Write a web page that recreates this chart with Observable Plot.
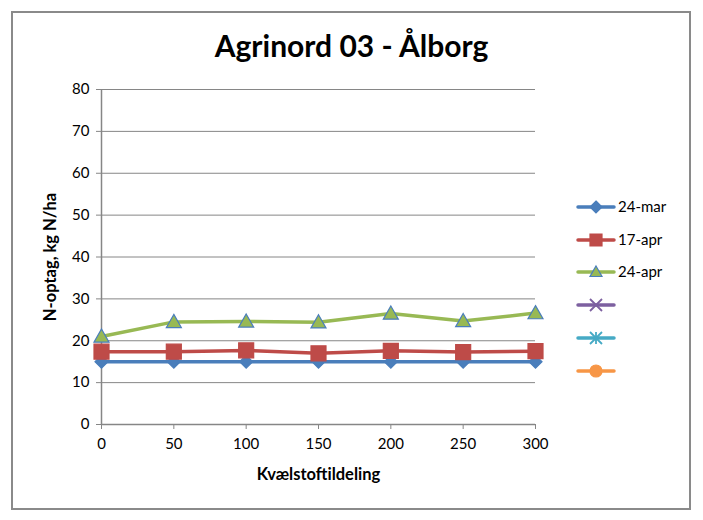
<!DOCTYPE html>
<html>
<head>
<meta charset="utf-8">
<script src="https://cdn.jsdelivr.net/npm/d3@7"></script>
<script src="https://cdn.jsdelivr.net/npm/@observablehq/plot@0.6"></script>
<style>
  html, body { margin: 0; padding: 0; background: #fff; }
  #wrap { position: relative; width: 703px; height: 520px; font-family: Lato, "Open Sans", sans-serif; }
  #frame { position: absolute; left: 11px; top: 11px; width: 676px; height: 495px; border: 2px solid #8a8a8a; }
  #title { position: absolute; left: 0; width: 703px; top: 27px; text-align: center; font-size: 30px; font-weight: bold; color: #000; }
  #chart { position: absolute; left: 0; top: 0; }
  #legend { position: absolute; left: 0; top: 0; }
</style>
</head>
<body>
<div id="wrap">
  <div id="frame"></div>
  <div id="title">Agrinord 03 - Ålborg</div>
  <div id="chart"></div>
  <svg id="legend" width="703" height="520"></svg>
</div>
<script>
// ---- data ----
const xValues = [0, 50, 100, 150, 200, 250, 300];
const seriesNames = ["24-mar", "17-apr", "24-apr", "", "", ""];
const mar24 = [15.0, 15.0, 15.0, 15.0, 15.0, 15.0, 15.0];
const apr17 = [17.4, 17.4, 17.7, 17.0, 17.6, 17.3, 17.5];
const apr24 = [21.0, 24.5, 24.6, 24.4, 26.5, 24.7, 26.6];
const seriesValues = [mar24, apr17, apr24, [], [], []];
const yTicks = [0, 10, 20, 30, 40, 50, 60, 70, 80];
const xTicks = [0, 50, 100, 150, 200, 250, 300];

// ---- styles ----
const lineColors = ["#4A7EBB", "#BE4B48", "#98B954", "#7D60A0", "#46AAC5", "#F79646"];
const markerStroke = ["#4A7EBB", "#BE4B48", "#4A7EBB", "#7D60A0", "#46AAC5", "#F79646"];
const markerKinds = ["diamond", "square", "triangle", "x", "asterisk", "circle"];

function makeSymbol(kind) {
  return {
    draw(ctx, size) {
      const r = Math.sqrt(size / Math.PI);
      if (kind === "diamond") {
        ctx.moveTo(0, -r); ctx.lineTo(r, 0); ctx.lineTo(0, r); ctx.lineTo(-r, 0); ctx.closePath();
      } else if (kind === "square") {
        ctx.moveTo(-r, -r); ctx.lineTo(r, -r); ctx.lineTo(r, r); ctx.lineTo(-r, r); ctx.closePath();
      } else if (kind === "triangle") {
        ctx.moveTo(0, -r); ctx.lineTo(r, r * 0.75); ctx.lineTo(-r, r * 0.75); ctx.closePath();
      } else if (kind === "x") {
        ctx.moveTo(-r, -r); ctx.lineTo(r, r); ctx.moveTo(r, -r); ctx.lineTo(-r, r);
      } else if (kind === "asterisk") {
        ctx.moveTo(-r, -r); ctx.lineTo(r, r); ctx.moveTo(r, -r); ctx.lineTo(-r, r);
        ctx.moveTo(0, -r); ctx.lineTo(0, r);
      } else {
        ctx.moveTo(r, 0); ctx.arc(0, 0, r, 0, 2 * Math.PI);
      }
    }
  };
}

const rows = [];
seriesValues.forEach((vals, i) => {
  vals.forEach((v, j) => rows.push({ series: i, x: xValues[j], y: v }));
});

const W = 703, H = 520;
const marks = [
  Plot.ruleY(yTicks.filter(d => d > 0), { stroke: "#868686", strokeWidth: 1, strokeOpacity: 1 }),
  Plot.ruleX([0], { stroke: "#868686", strokeWidth: 1.5 }),
  Plot.ruleY([0], { stroke: "#868686", strokeWidth: 1.5 }),
  Plot.axisY({ ticks: yTicks, tickSize: 5, tickPadding: 7, stroke: "#868686", fontSize: 15,
    label: "N-optag, kg N/ha", labelAnchor: "center", labelArrow: "none", labelOffset: 57 }),
  Plot.axisX({ ticks: xTicks, tickSize: 5, tickPadding: 9, stroke: "#868686", fontSize: 15,
    label: "Kvælstoftildeling", labelAnchor: "center", labelArrow: "none", labelOffset: 55 })
];
[0, 1, 2].forEach(i => {
  const d = rows.filter(r => r.series === i);
  marks.push(Plot.line(d, { x: "x", y: "y", stroke: lineColors[i], strokeWidth: 3.5 }));
});
[0, 1, 2].forEach(i => {
  const d = rows.filter(r => r.series === i);
  const rr = i === 0 ? 6.5 : 7.5;
  marks.push(Plot.dot(d, { x: "x", y: "y", r: rr, symbol: makeSymbol(markerKinds[i]),
    fill: markerKinds[i] === "triangle" ? lineColors[i] : markerStroke[i],
    stroke: markerStroke[i], strokeWidth: 1.2 }));
});

const chart = Plot.plot({
  width: W, height: H,
  marginLeft: 101, marginRight: 168, marginTop: 89, marginBottom: 96,
  style: { fontFamily: "Lato, 'Open Sans', sans-serif", fontSize: "15px", color: "#000", background: "transparent" },
  x: { domain: [0, 300] },
  y: { domain: [0, 80] },
  marks
});
chart.querySelectorAll('[aria-label="y-axis label"], [aria-label="x-axis label"]').forEach(g => {
  g.setAttribute("font-size", "16.5");
  g.setAttribute("font-weight", "bold");
  g.querySelectorAll("text").forEach(t => {
    t.setAttribute("font-size", "16.5");
    t.style.fontWeight = "bold"; t.style.fontSize = "16.5px";
  });
});
document.getElementById("chart").appendChild(chart);

// ---- legend ----
const leg = d3.select("#legend");
const rowY = [207, 240, 272, 305, 338, 371];
seriesNames.forEach((name, i) => {
  const g = leg.append("g").attr("transform", `translate(0,${rowY[i]})`);
  g.append("line").attr("x1", 578).attr("x2", 614).attr("y1", 0).attr("y2", 0)
    .attr("stroke", lineColors[i]).attr("stroke-width", 3.5).attr("stroke-linecap", "round");
  const sym = makeSymbol(markerKinds[i]);
  const rr = 6;
  const isLine = markerKinds[i] === "x" || markerKinds[i] === "asterisk";
  g.append("path").attr("transform", "translate(596,0)")
    .attr("d", d3.symbol(sym, Math.PI * rr * rr)())
    .attr("fill", isLine ? "none" : (markerKinds[i] === "triangle" ? lineColors[i] : markerStroke[i]))
    .attr("stroke", markerStroke[i]).attr("stroke-width", isLine ? 1.8 : 1.2);
  if (name) {
    g.append("text").attr("x", 618).attr("y", 0).attr("dy", "0.35em")
      .attr("font-family", "Lato, 'Open Sans', sans-serif").attr("font-size", 15).attr("fill", "#000").text(name);
  }
});
</script>
</body>
</html>
